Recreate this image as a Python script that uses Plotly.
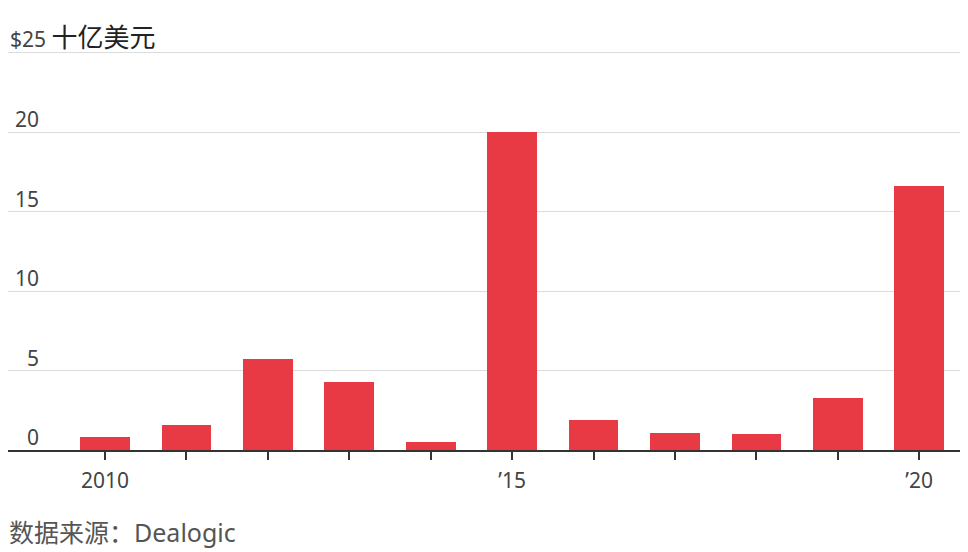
import plotly.graph_objects as go

years = [2010, 2011, 2012, 2013, 2014, 2015, 2016, 2017, 2018, 2019, 2020]
values = [0.8, 1.6, 5.7, 4.3, 0.5, 20.0, 1.9, 1.1, 1.0, 3.3, 16.6]
x_tick_labels = ["2010", "", "", "", "", "’15", "", "", "", "", "’20"]
y_ticks = [0, 5, 10, 15, 20, 25]
y_tick_labels = ["0", "5", "10", "15", "20", "$25"]
unit_label = "十亿美元"
source_text = "数据来源：Dealogic"

FONT = "Noto Sans, Noto Sans CJK SC, sans-serif"

fig = go.Figure()
fig.add_trace(go.Bar(x=years, y=values, marker=dict(color="#e83a44", line=dict(width=0)),
                     width=0.61))

annotations = []
for v, t in zip(y_ticks, y_tick_labels):
    if v == 25:
        annotations.append(dict(x=0, xref="paper", xanchor="left", xshift=0,
                                y=v, yref="y", yanchor="bottom", yshift=-4,
                                text=t + " <span style='font-size:26px;color:#222'>" + unit_label + "</span>",
                                showarrow=False, font=dict(family=FONT, size=21, color="#444")))
    else:
        annotations.append(dict(x=0, xref="paper", xanchor="right", xshift=33,
                                y=v, yref="y", yanchor="bottom", yshift=-3,
                                text=t, showarrow=False,
                                font=dict(family=FONT, size=21, color="#444")))
annotations.append(dict(x=0, xref="paper", xanchor="left", xshift=0,
                        y=0, yref="paper", yanchor="top", yshift=-64,
                        text=source_text, showarrow=False, borderpad=0,
                        font=dict(family=FONT, size=25, color="#555")))

fig.update_layout(
    width=960, height=544,
    margin=dict(l=0, r=0, t=29, b=102),
    paper_bgcolor="white", plot_bgcolor="white",
    showlegend=False,
    bargap=0,
    annotations=annotations,
    xaxis=dict(range=[2008.808, 2020.6], tickvals=years, ticktext=x_tick_labels,
               ticks="outside", ticklen=8, tickwidth=2, tickcolor="#333",
               ticklabelstandoff=3,
               showline=True, linecolor="#333", linewidth=2,
               showgrid=False, zeroline=False,
               tickfont=dict(family=FONT, size=21, color="#444")),
    yaxis=dict(range=[0, 26], tickvals=y_ticks, showticklabels=False,
               showgrid=True, gridcolor="#dcdcdc", gridwidth=1,
               zeroline=False, showline=False, ticks=""),
)

fig.write_html("out.html")
